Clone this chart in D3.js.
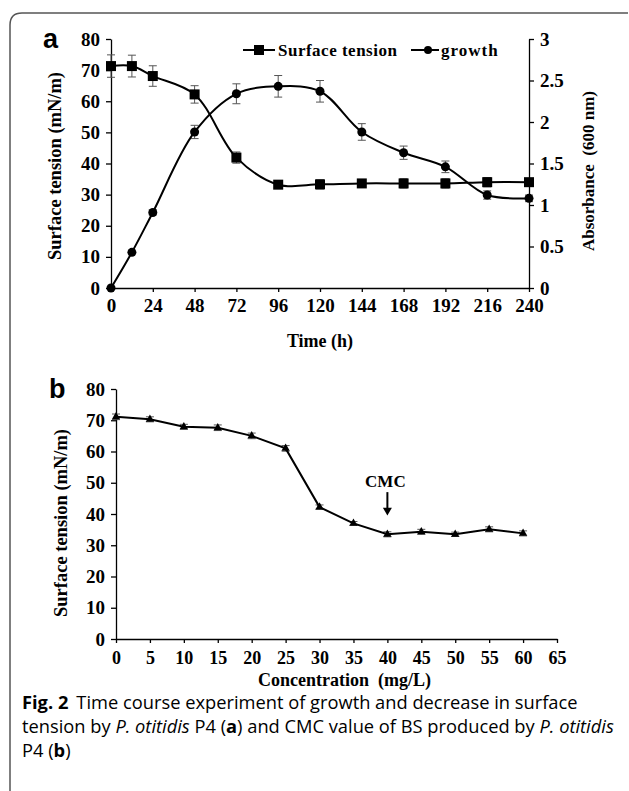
<!DOCTYPE html>
<html>
<head>
<meta charset="utf-8">
<script src="https://cdn.jsdelivr.net/npm/d3@7"></script>
<style>
  body { margin: 0; background: #fff; }
  svg text { font-family: "Liberation Serif", "Times New Roman", serif; font-weight: bold; }
  .cap { font-family: "Open Sans", sans-serif; font-weight: normal; }
</style>
</head>
<body>
<svg id="fig" width="629" height="791"></svg>
<script>
// panel a: time course
const hours = [0, 12, 24, 48, 72, 96, 120, 144, 168, 192, 216, 240];
const tension = [71.3, 71.3, 68.1, 62.2, 41.9, 33.2, 33.3, 33.6, 33.6, 33.6, 34.0, 34.0];
const tensionErr = [3.6, 3.5, 3.3, 2.8, 1.8, 1.0, 1.5, 1.2, 1.5, 1.5, 1.5, 1.0];
const growth = [0.0, 0.43, 0.91, 1.88, 2.34, 2.43, 2.37, 1.88, 1.63, 1.46, 1.12, 1.08];
const growthErr = [0.0, 0.0, 0.03, 0.08, 0.12, 0.13, 0.13, 0.1, 0.08, 0.07, 0.05, 0.04];
const hourTicks = [0, 24, 48, 72, 96, 120, 144, 168, 192, 216, 240];
const tensionTicks = [0, 10, 20, 30, 40, 50, 60, 70, 80];
const absTicks = [0, 0.5, 1, 1.5, 2, 2.5, 3];

// panel b: CMC
const conc = [0, 5, 10, 15, 20, 25, 30, 35, 40, 45, 50, 55, 60];
const concTension = [71.1, 70.3, 67.9, 67.6, 65.0, 61.0, 42.2, 37.0, 33.5, 34.3, 33.5, 35.1, 33.8];
const concErr = [0.9, 0.8, 0.8, 0.9, 0.9, 0.9, 0.7, 0.6, 0.8, 0.8, 0.7, 0.8, 0.8];
const concTicks = [0, 5, 10, 15, 20, 25, 30, 35, 40, 45, 50, 55, 60, 65];

const svg = d3.select('#fig');

// frame
svg.append('path')
  .attr('d', 'M628,13 L22,13 Q10,13 10,25 L10,791')
  .attr('fill', 'none').attr('stroke', '#555').attr('stroke-width', 1.5);

function styleAxis(g, size) {
  g.selectAll('path, line').attr('stroke', '#000').attr('stroke-width', 1.3);
  g.selectAll('text').attr('font-size', size).attr('fill', '#000');
}

// ---------- panel a ----------
const ax = { left: 111, right: 529, top: 39, bottom: 288 };
const xa = d3.scaleLinear().domain([0, 240]).range([ax.left, ax.right]);
const ya = d3.scaleLinear().domain([0, 80]).range([ax.bottom, ax.top]);
const ya2 = d3.scaleLinear().domain([0, 3]).range([ax.bottom, ax.top]);

svg.append('g').attr('transform', `translate(0,${ax.bottom})`)
  .call(d3.axisBottom(xa).tickValues(hourTicks).tickSize(4).tickSizeOuter(0).tickPadding(7))
  .call(g => styleAxis(g, 19));
svg.append('g').attr('transform', `translate(${ax.left},0)`)
  .call(d3.axisLeft(ya).tickValues(tensionTicks).tickSize(5).tickSizeOuter(0).tickPadding(6))
  .call(g => styleAxis(g, 19));
svg.append('g').attr('transform', `translate(${ax.right},0)`)
  .call(d3.axisRight(ya2).tickValues(absTicks).tickFormat(d3.format('')).tickSize(5).tickSizeOuter(0).tickPadding(6))
  .call(g => styleAxis(g, 19));

const smooth = d3.curveCatmullRom.alpha(0.5);
const ta = hours.map((h, i) => ({ x: h, y: tension[i], e: tensionErr[i] }));
const ga = hours.map((h, i) => ({ x: h, y: growth[i], e: growthErr[i] }));

function errBars(data, xs, ys, cap) {
  const g = svg.append('g').attr('stroke', '#555').attr('stroke-width', 1);
  data.filter(d => d.e > 0).forEach(d => {
    const x = xs(d.x), y1 = ys(d.y + d.e), y2 = ys(d.y - d.e);
    g.append('line').attr('x1', x).attr('x2', x).attr('y1', y1).attr('y2', y2);
    g.append('line').attr('x1', x - cap).attr('x2', x + cap).attr('y1', y1).attr('y2', y1);
    g.append('line').attr('x1', x - cap).attr('x2', x + cap).attr('y1', y2).attr('y2', y2);
  });
}
errBars(ta, xa, ya, 4);
errBars(ga, xa, ya2, 4);

svg.append('path').datum(ta)
  .attr('d', d3.line().x(d => xa(d.x)).y(d => ya(d.y)).curve(smooth))
  .attr('fill', 'none').attr('stroke', '#000').attr('stroke-width', 2);
svg.append('path').datum(ga)
  .attr('d', d3.line().x(d => xa(d.x)).y(d => ya2(d.y)).curve(smooth))
  .attr('fill', 'none').attr('stroke', '#000').attr('stroke-width', 2);

svg.append('g').selectAll('rect').data(ta).join('rect')
  .attr('x', d => xa(d.x) - 5).attr('y', d => ya(d.y) - 5)
  .attr('width', 10).attr('height', 10).attr('fill', '#000');
svg.append('g').selectAll('circle').data(ga).join('circle')
  .attr('cx', d => xa(d.x)).attr('cy', d => ya2(d.y)).attr('r', 4.5).attr('fill', '#000');

// legend
const lg = svg.append('g');
lg.append('line').attr('x1', 243).attr('x2', 275).attr('y1', 50).attr('y2', 50).attr('stroke', '#000').attr('stroke-width', 2);
lg.append('rect').attr('x', 254).attr('y', 45).attr('width', 10).attr('height', 10).attr('fill', '#000');
lg.append('text').attr('x', 278).attr('y', 56).attr('font-size', 17).attr('letter-spacing', 0.5).text('Surface tension');
lg.append('line').attr('x1', 411).attr('x2', 439).attr('y1', 50).attr('y2', 50).attr('stroke', '#000').attr('stroke-width', 2);
lg.append('circle').attr('cx', 428).attr('cy', 50).attr('r', 4).attr('fill', '#000');
lg.append('text').attr('x', 441).attr('y', 56).attr('font-size', 17).attr('letter-spacing', 1).text('growth');

svg.append('text').attr('transform', 'translate(61,166) rotate(-90)')
  .attr('text-anchor', 'middle').attr('font-size', 18.5).text('Surface tension (mN/m)');
svg.append('text').attr('transform', 'translate(594,171) rotate(-90)')
  .attr('text-anchor', 'middle').attr('font-size', 17).attr('xml:space', 'preserve').text('Absorbance  (600 nm)');
svg.append('text').attr('x', (ax.left + ax.right) / 2).attr('y', 347)
  .attr('text-anchor', 'middle').attr('font-size', 18).text('Time (h)');
svg.append('text').attr('x', 43).attr('y', 48).attr('font-size', 27)
  .style('font-family', 'Liberation Sans, Arial, sans-serif').text('a');

// ---------- panel b ----------
const bx = { left: 116, right: 557, top: 389, bottom: 639 };
const xb = d3.scaleLinear().domain([0, 65]).range([bx.left, bx.right]);
const yb = d3.scaleLinear().domain([0, 80]).range([bx.bottom, bx.top]);

svg.append('g').attr('transform', `translate(0,${bx.bottom})`)
  .call(d3.axisBottom(xb).tickValues(concTicks).tickSize(4).tickSizeOuter(0).tickPadding(8))
  .call(g => styleAxis(g, 18));
svg.append('g').attr('transform', `translate(${bx.left},0)`)
  .call(d3.axisLeft(yb).tickValues(tensionTicks).tickSize(5).tickSizeOuter(0).tickPadding(6))
  .call(g => styleAxis(g, 19));

const cb = conc.map((c, i) => ({ x: c, y: concTension[i], e: concErr[i] }));
errBars(cb, xb, yb, 4);
svg.append('path').datum(cb)
  .attr('d', d3.line().x(d => xb(d.x)).y(d => yb(d.y)))
  .attr('fill', 'none').attr('stroke', '#000').attr('stroke-width', 2);
svg.append('g').selectAll('path.tri').data(cb).join('path')
  .attr('transform', d => `translate(${xb(d.x)},${yb(d.y)})`)
  .attr('d', d3.symbol(d3.symbolTriangle, 30)).attr('fill', '#000');

// CMC arrow
const cx = xb(40);
svg.append('text').attr('x', cx - 2).attr('y', yb(48.5)).attr('text-anchor', 'middle')
  .attr('font-size', 17).text('CMC');
svg.append('line').attr('x1', cx).attr('x2', cx).attr('y1', yb(47)).attr('y2', yb(41.5))
  .attr('stroke', '#000').attr('stroke-width', 2);
svg.append('path')
  .attr('d', `M${cx - 4.5},${yb(42)} L${cx + 4.5},${yb(42)} L${cx},${yb(39.5)} Z`).attr('fill', '#000');

svg.append('text').attr('transform', 'translate(67,523) rotate(-90)')
  .attr('text-anchor', 'middle').attr('font-size', 18.5).text('Surface tension (mN/m)');
svg.append('text').attr('x', (bx.left + bx.right) / 2 + 8).attr('y', 686)
  .attr('text-anchor', 'middle').attr('font-size', 18).attr('xml:space', 'preserve').text('Concentration  (mg/L)');
svg.append('text').attr('x', 49).attr('y', 398).attr('font-size', 27)
  .style('font-family', 'Liberation Sans, Arial, sans-serif').text('b');

// ---------- caption ----------
const cap = svg.append('g').attr('class', 'cap').attr('font-size', 18.3);
const l1 = cap.append('text').attr('class', 'cap').attr('x', 22).attr('y', 709);
l1.append('tspan').style('font-weight', 'bold').text('Fig. 2');
l1.append('tspan').attr('dx', 8).text('Time course experiment of growth and decrease in surface');
const l2 = cap.append('text').attr('class', 'cap').attr('x', 22).attr('y', 733);
l2.append('tspan').text('tension by ');
l2.append('tspan').style('font-style', 'italic').text('P. otitidis');
l2.append('tspan').text(' P4 (');
l2.append('tspan').style('font-weight', 'bold').text('a');
l2.append('tspan').text(') and CMC value of BS produced by ');
l2.append('tspan').style('font-style', 'italic').text('P. otitidis');
const l3 = cap.append('text').attr('class', 'cap').attr('x', 22).attr('y', 757);
l3.append('tspan').text('P4 (');
l3.append('tspan').style('font-weight', 'bold').text('b');
l3.append('tspan').text(')');
</script>
</body>
</html>
